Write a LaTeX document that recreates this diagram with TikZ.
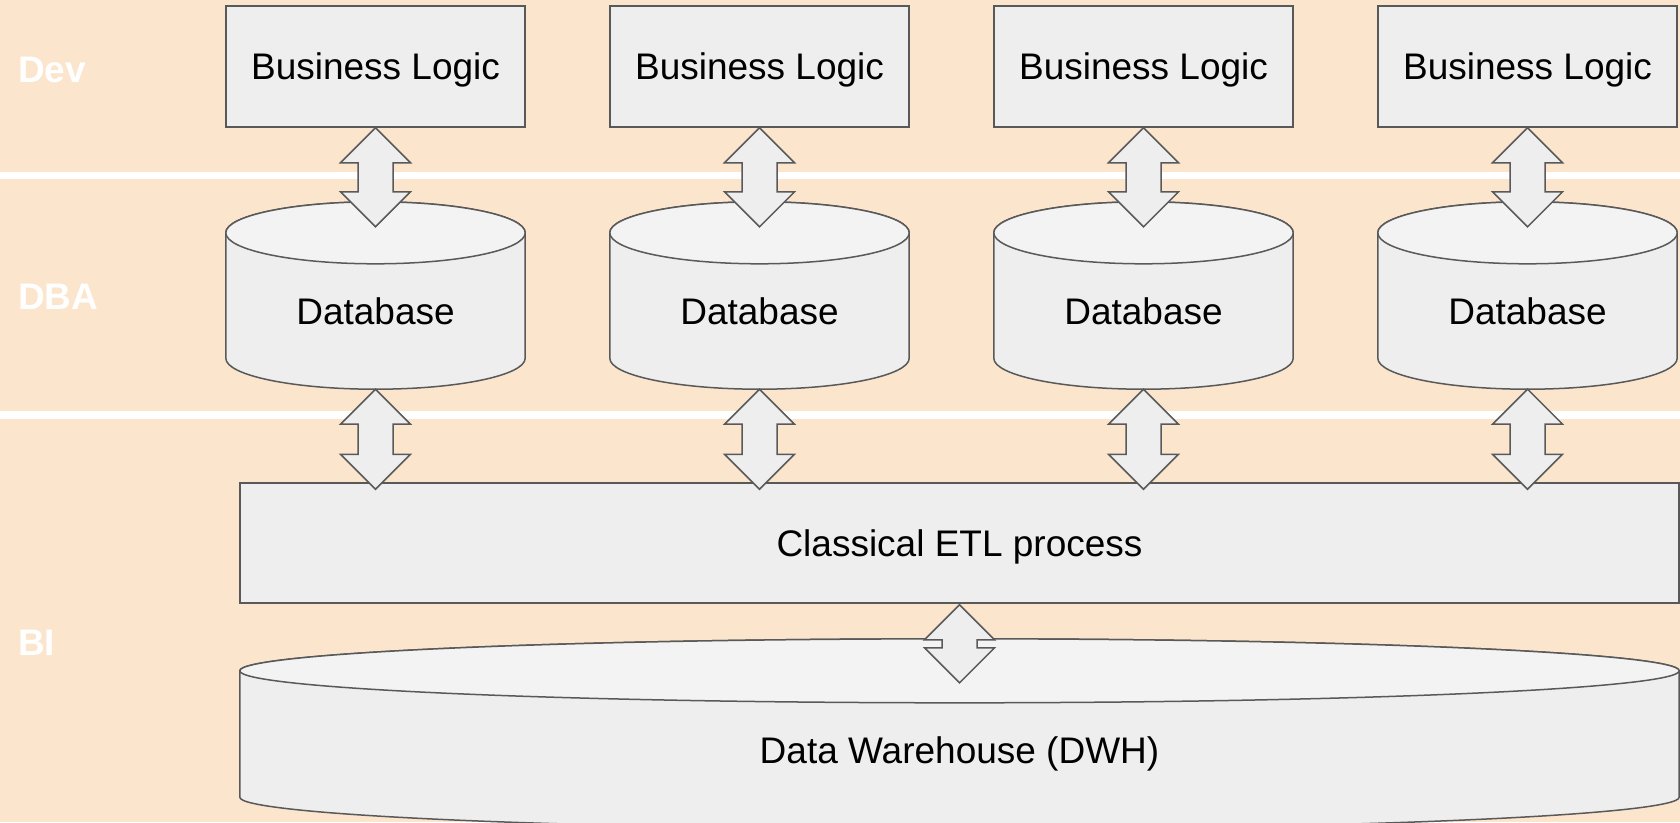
\documentclass[tikz,border=0pt]{standalone}
\usepackage{fontspec}
\setmainfont{Liberation Sans}
\usetikzlibrary{calc}
\definecolor{bgpeach}{HTML}{FCE5CD}
\definecolor{boxfill}{HTML}{EEEEEE}
\definecolor{topfill}{HTML}{F3F3F3}
\definecolor{edgegray}{HTML}{595959}
\pgfdeclarelayer{back}
\pgfdeclarelayer{mid}
\pgfsetlayers{back,mid,main}
% double-headed block arrow between two named coordinates (top, bottom)
\newcommand\udarrow[2]{%
  \draw[arr] let \p1=(#1), \p2=(#2) in
    (\x1,\y1) -- (\x1+35pt,\y1-35pt) -- (\x1+17.5pt,\y1-35pt)
    -- (\x1+17.5pt,\y2+35pt) -- (\x1+35pt,\y2+35pt) -- (\x1,\y2)
    -- (\x1-35pt,\y2+35pt) -- (\x1-17.5pt,\y2+35pt)
    -- (\x1-17.5pt,\y1-35pt) -- (\x1-35pt,\y1-35pt) -- cycle;}
% cylinder drawn around a body node: #1 node name, #2 ellipse y-radius (pt)
\newcommand\cylaround[2]{%
  \begin{pgfonlayer}{mid}
  \filldraw[fill=boxfill, draw=edgegray, line width=1.5pt]
    let \p1=(#1.north west), \p2=(#1.south east), \n1={(\x2-\x1)/2} in
    (\x1,\y1+#2pt) -- (\x1,\y2)
    arc[start angle=180, end angle=360, x radius={\n1*1pt}, y radius=#2pt]
    -- (\x2,\y1+#2pt)
    arc[start angle=0, end angle=180, x radius={\n1*1pt}, y radius=#2pt]
    -- cycle;
  \filldraw[fill=topfill, draw=edgegray, line width=1.5pt]
    let \p1=(#1.north west), \p2=(#1.south east), \n1={(\x2-\x1)/2} in
    ({(\x1+\x2)/2},\y1+#2pt) ellipse [x radius={\n1*1pt}, y radius=#2pt];
  \end{pgfonlayer}}
\begin{document}
\begin{tikzpicture}[x=1pt,y=-1pt,
  boxtext/.style={inner sep=0pt, font=\fontsize{37}{44}\selectfont,
    text height=26.5pt, text depth=0pt},
  box/.style={boxtext, draw=edgegray, fill=boxfill, line width=1.5pt},
  blbox/.style={box, minimum width=299pt, minimum height=121pt},
  dbbody/.style={boxtext, minimum width=299pt, minimum height=94pt},
  lane/.style={anchor=base west, inner sep=0pt, text=white,
    font=\fontsize{37}{44}\selectfont\bfseries},
  sepline/.style={white, line width=7.5pt},
  arr/.style={draw=edgegray, fill=boxfill, line width=1.5pt, line join=miter}]
\clip (0,0) rectangle (1680,822);
\begin{pgfonlayer}{back}
  \fill[bgpeach] (0,0) rectangle (1680,822);
  \draw[sepline] (0,175.5) -- (1680,175.5);
  \draw[sepline] (0,415) -- (1680,415);
\end{pgfonlayer}
% lane labels
\node[lane] (lDev) at (18,82) {Dev};
\node[lane] (lDBA) at (18,309) {DBA};
\node[lane] (lBI)  at (18,655) {BI};
% columns
\foreach \i/\cx in {1/375.5, 2/759.5, 3/1143.5, 4/1527.5} {
  \node[blbox] (bl\i) at (\cx,66.5) {Business Logic};
  \node[dbbody] (db\i) at (\cx,311) {Database};
}
\foreach \i in {1,2,3,4} {\cylaround{db\i}{31}}
% ETL process box
\node[box, minimum width=1439pt, minimum height=120pt] (etl) at (959.5,543) {Classical ETL process};
% Data warehouse
\node[boxtext, minimum width=1439pt, minimum height=94pt] (dwh) at (959.5,750) {Data Warehouse (DWH)};
\cylaround{dwh}{32}
% arrows
\foreach \i in {1,2,3,4} {
  \coordinate (a\i t) at (bl\i.south);
  \coordinate (a\i b) at ($(db\i.north)+(0,-37)$);
  \udarrow{a\i t}{a\i b}
  \coordinate (c\i t) at ($(db\i.south)+(0,31)$);
  \coordinate (c\i b) at ($(db\i.south |- etl.north)+(0,7)$);
  \udarrow{c\i t}{c\i b}
}
\coordinate (et) at ($(etl.south)+(0,1)$);
\coordinate (eb) at ($(dwh.north)+(0,-20)$);
\udarrow{et}{eb}
\end{tikzpicture}
\end{document}
